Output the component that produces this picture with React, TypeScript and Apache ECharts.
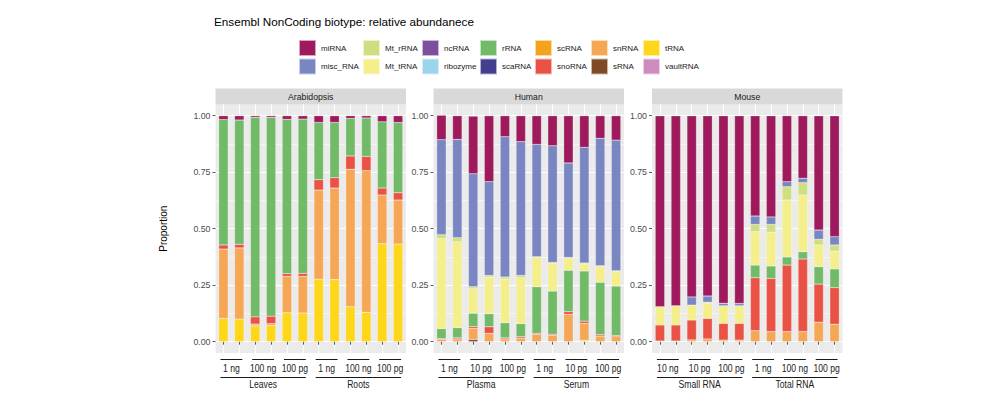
import React, { useEffect, useRef } from 'react';
import * as echarts from 'echarts';

const panelNames = ['Arabidopsis', 'Human', 'Mouse'];
const groupNames = [['Leaves', 'Roots'], ['Plasma', 'Serum'], ['Small RNA', 'Total RNA']];
const amountNames = [
  [['1 ng', '100 ng', '100 pg'], ['1 ng', '100 ng', '100 pg']],
  [['1 ng', '10 pg', '100 pg'], ['1 ng', '10 pg', '100 pg']],
  [['10 ng', '10 pg', '100 pg'], ['1 ng', '100 ng', '100 pg']],
];
const replicates = ['rep1', 'rep2'];

// stacking order: bottom -> top
const biotypes = ['vaultRNA', 'tRNA', 'sRNA', 'snRNA', 'snoRNA', 'scRNA', 'scaRNA', 'rRNA', 'ribozyme', 'ncRNA', 'Mt_tRNA', 'Mt_rRNA', 'misc_RNA', 'miRNA'];
const legendColumns = [
  ['miRNA', 'misc_RNA'], ['Mt_rRNA', 'Mt_tRNA'], ['ncRNA', 'ribozyme'], ['rRNA', 'scaRNA'],
  ['scRNA', 'snoRNA'], ['snRNA', 'sRNA'], ['tRNA', 'vaultRNA'],
];
const colors: Record<string, string> = {
  miRNA: '#9E1A5C', misc_RNA: '#7986C2', Mt_rRNA: '#CFDF80', Mt_tRNA: '#F4EE8B',
  ncRNA: '#7D4F9E', ribozyme: '#9AD5EC', rRNA: '#70BA68', scaRNA: '#433F8F',
  scRNA: '#F5A31C', snoRNA: '#EA5245', snRNA: '#F6A756', sRNA: '#7F4A24',
  tRNA: '#FED61A', vaultRNA: '#CD8BC0',
};

// values per bar: 12 Arabidopsis, 12 Human, 12 Mouse
const vaultRNA = [0,0,0,0,0,0,0,0,0,0,0,0, 0,0,0,0,0,0,0,0,0,0,0,0, 0,0,0,0,0,0,0,0,0,0,0,0];
const tRNA = [0.103,0.100,0.070,0.072,0.128,0.127,0.277,0.275,0.155,0.130,0.434,0.432, 0,0,0,0,0,0,0,0,0,0.006,0,0, 0,0,0,0,0,0,0,0,0,0,0,0];
const sRNA = [0,0,0,0,0,0,0,0,0,0,0,0, 0,0,0.010,0,0,0,0,0,0,0,0,0, 0,0,0,0,0,0,0,0,0,0,0,0];
const snRNA = [0.307,0.315,0.008,0.008,0.161,0.162,0.394,0.405,0.608,0.627,0.215,0.195, 0.010,0.012,0.049,0.037,0.012,0.016,0.032,0.028,0.121,0.075,0.025,0.022, 0.003,0.003,0.008,0.012,0.007,0.007,0.049,0.045,0.045,0.045,0.086,0.077];
const snoRNA = [0.018,0.016,0.032,0.033,0.012,0.013,0.046,0.046,0.059,0.063,0.031,0.032, 0.004,0.005,0.008,0.029,0.005,0.006,0.005,0.005,0.012,0.010,0.006,0.005, 0.071,0.071,0.088,0.091,0.074,0.074,0.234,0.235,0.294,0.321,0.169,0.162];
const scRNA = [0,0,0,0,0,0,0,0,0,0,0,0, 0,0,0,0,0,0,0,0,0,0,0,0, 0,0,0,0,0,0,0,0,0,0,0,0];
const scaRNA = [0,0,0,0,0,0,0,0,0,0,0,0, 0,0,0,0,0,0,0,0,0,0,0,0, 0,0,0,0,0,0,0,0,0,0,0,0];
const rRNA = [0.555,0.550,0.883,0.880,0.683,0.683,0.253,0.244,0.166,0.170,0.293,0.311, 0.044,0.045,0.059,0.058,0.067,0.058,0.206,0.191,0.183,0.222,0.232,0.219, 0,0,0,0,0,0,0.056,0.055,0.036,0.032,0.077,0.083];
const ribozyme = [0,0,0,0,0,0,0,0,0,0,0,0, 0,0,0,0,0,0,0,0,0,0,0,0, 0,0,0,0,0,0,0,0,0,0,0,0];
const ncRNA = [0,0,0,0,0,0,0,0,0,0,0,0, 0,0,0,0,0,0,0,0,0,0,0,0, 0,0,0,0,0,0,0,0,0,0,0,0];
const Mt_tRNA = [0,0,0,0,0,0,0,0,0,0,0,0, 0.398,0.380,0.108,0.162,0.193,0.203,0.129,0.123,0.053,0.031,0.069,0.064, 0.081,0.085,0.066,0.067,0.078,0.078,0.148,0.149,0.252,0.251,0.096,0.079];
const Mt_rRNA = [0,0,0,0,0,0,0,0,0,0,0,0, 0.018,0.018,0.009,0.007,0.009,0.010,0.004,0.004,0.004,0.004,0.004,0.004, 0,0,0,0.005,0,0,0.032,0.035,0.059,0.055,0.025,0.027];
const misc_RNA = [0,0,0,0,0,0,0,0,0,0,0,0, 0.420,0.435,0.500,0.415,0.621,0.592,0.497,0.516,0.418,0.512,0.564,0.578, 0,0,0.036,0.027,0.011,0.010,0.037,0.033,0.022,0.019,0.041,0.037];
const miRNA = [0.017,0.019,0.007,0.007,0.016,0.015,0.030,0.030,0.012,0.010,0.027,0.030, 0.108,0.105,0.255,0.292,0.093,0.115,0.127,0.133,0.209,0.140,0.100,0.108, 0.845,0.841,0.802,0.798,0.830,0.831,0.444,0.448,0.292,0.277,0.506,0.535];

const values: Record<string, number[]> = {
  vaultRNA, tRNA, sRNA, snRNA, snoRNA, scRNA, scaRNA, rRNA, ribozyme, ncRNA, Mt_tRNA, Mt_rRNA, misc_RNA, miRNA,
};

const yTicks = [0, 0.25, 0.5, 0.75, 1];
const yMinorTicks = [0.125, 0.375, 0.625, 0.875];

const SANS = '"Liberation Sans", Arial, Helvetica, sans-serif';

const gridLefts = [215.5, 433.5, 652];
const gridWidth = 190.5;
const gridTop = 104.4;
const gridHeight = 248.6;
const legendLefts = [298, 362, 421, 479, 534, 590, 642];

function buildOption() {
  const categories = groupNames.map((groups, p) => {
    const out: string[] = [];
    groups.forEach((g, gi) => amountNames[p][gi].forEach((a) => replicates.forEach((r) => out.push(`${g} ${a} ${r}`))));
    return out;
  });

  const brackets = groupNames.map((groups, p) => {
    const out: { start: number; end: number; level: number; label: string }[] = [];
    groups.forEach((g, gi) => {
      amountNames[p][gi].forEach((a, ai) => {
        const start = gi * amountNames[p][gi].length * replicates.length + ai * replicates.length;
        out.push({ start, end: start + replicates.length - 1, level: 0, label: a });
      });
      const gStart = gi * amountNames[p][gi].length * replicates.length;
      out.push({ start: gStart, end: gStart + amountNames[p][gi].length * replicates.length - 1, level: 1, label: g });
    });
    return out;
  });

  const grid = gridLefts.map((left) => ({
    left, top: gridTop, width: gridWidth, height: gridHeight,
    show: true, backgroundColor: '#EBEBEB', borderWidth: 0,
  }));

  const xAxis = panelNames.map((_, p) => ({
    type: 'category', gridIndex: p, data: categories[p],
    axisLine: { show: false },
    axisTick: { show: true, alignWithLabel: true, interval: 0, length: 3, lineStyle: { color: '#333333', width: 0.8 } },
    axisLabel: { show: false },
    splitLine: { show: true, interval: 0, alignWithLabel: true, lineStyle: { color: '#FFFFFF', width: 1 } },
  }));

  const yAxis: any[] = [];
  panelNames.forEach((_, p) => {
    yAxis.push({
      type: 'value', gridIndex: p, min: -0.05, max: 1.05,
      axisLine: { show: false },
      axisTick: { show: true, customValues: yTicks, length: 3, lineStyle: { color: '#333333', width: 0.8 } },
      axisLabel: { customValues: yTicks, formatter: (v: number) => v.toFixed(2), fontSize: 8.8, color: '#4D4D4D', margin: 5, fontFamily: SANS },
      splitLine: { show: true, lineStyle: { color: '#FFFFFF', width: 1 } },
    });
  });
  panelNames.forEach((_, p) => {
    yAxis.push({
      type: 'value', gridIndex: p, min: -0.05, max: 1.05, position: 'left',
      axisLine: { show: false },
      axisTick: { show: false, customValues: yMinorTicks },
      axisLabel: { show: false, customValues: yMinorTicks },
      splitLine: { show: true, lineStyle: { color: '#FFFFFF', width: 0.5 } },
    });
  });

  const series: any[] = [];
  panelNames.forEach((_, p) => {
    biotypes.forEach((b) => {
      series.push({
        type: 'bar', name: b, xAxisIndex: p, yAxisIndex: p, stack: `panel${p}`,
        barWidth: 9.4,
        itemStyle: { color: colors[b], borderColor: 'rgba(255,255,255,0.6)', borderWidth: 0.4 },
        emphasis: { disabled: true },
        data: values[b].slice(p * 12, p * 12 + 12).map((v) => (v > 0 ? v : null)),
      });
    });
    const items = brackets[p];
    series.push({
      type: 'custom', name: 'brackets', xAxisIndex: p, yAxisIndex: p, silent: true, clip: false, z: 10,
      data: items.map((it) => [it.start, 0]),
      renderItem: (params: any, api: any) => {
        const it = items[params.dataIndex];
        const xs = api.coord([it.start, 0])[0];
        const xe = api.coord([it.end, 0])[0];
        const base = api.coord([it.start, -0.05])[1];
        const lineY = Math.round(base + (it.level === 0 ? 5.5 : 23.5)) + 0.5;
        const textY = base + (it.level === 0 ? 15.5 : 31.5);
        return {
          type: 'group',
          children: [
            { type: 'line', shape: { x1: xs - 3, y1: lineY, x2: xe + 3, y2: lineY }, style: { stroke: '#1A1A1A', lineWidth: 1 } },
            {
              type: 'text', x: (xs + xe) / 2, y: textY, scaleX: 0.82, scaleY: 1,
              style: { text: it.label, x: 0, y: 0, align: 'center', verticalAlign: 'middle', fontSize: 10.5, fontFamily: SANS, fill: '#1A1A1A' },
            },
          ],
        };
      },
    });
  });

  const legend = legendColumns.map((col, i) => ({
    orient: 'vertical', left: legendLefts[i], top: 39, padding: 0,
    itemWidth: 17, itemHeight: 16, itemGap: 0.5, icon: 'rect', selectedMode: false,
    data: col,
    textStyle: { fontSize: 8, color: '#1A1A1A', fontFamily: SANS },
  }));

  const graphic: any[] = [
    { type: 'text', x: 214, y: 21.7, style: { text: 'Ensembl NonCoding biotype: relative abundanece', fontSize: 11.7, fontFamily: SANS, fill: '#000000', align: 'left', verticalAlign: 'middle' } },
    { type: 'text', x: 163, y: gridTop + gridHeight / 2, rotation: Math.PI / 2, style: { text: 'Proportion', fontSize: 10, fontFamily: SANS, fill: '#000000', align: 'center', verticalAlign: 'middle' } },
  ];
  panelNames.forEach((name, p) => {
    graphic.push({ type: 'rect', shape: { x: gridLefts[p], y: 88.6, width: gridWidth, height: gridTop - 88.6 }, style: { fill: '#D9D9D9' } });
    graphic.push({ type: 'text', x: gridLefts[p] + gridWidth / 2, y: 96.6, style: { text: name, fontSize: 8.7, fontFamily: SANS, fill: '#1A1A1A', align: 'center', verticalAlign: 'middle' } });
  });

  return {
    animation: false,
    backgroundColor: '#FFFFFF',
    textStyle: { fontFamily: SANS },
    grid, xAxis, yAxis, series, legend, graphic,
    tooltip: { show: false },
  };
}

export default function App() {
  const ref = useRef<HTMLDivElement>(null);
  useEffect(() => {
    document.body.style.margin = '0';
    if (!ref.current) return;
    const chart = echarts.init(ref.current, null, { renderer: 'svg' });
    chart.setOption(buildOption() as any);
    return () => chart.dispose();
  }, []);
  return <div ref={ref} style={{ width: 1000, height: 400 }} />;
}
